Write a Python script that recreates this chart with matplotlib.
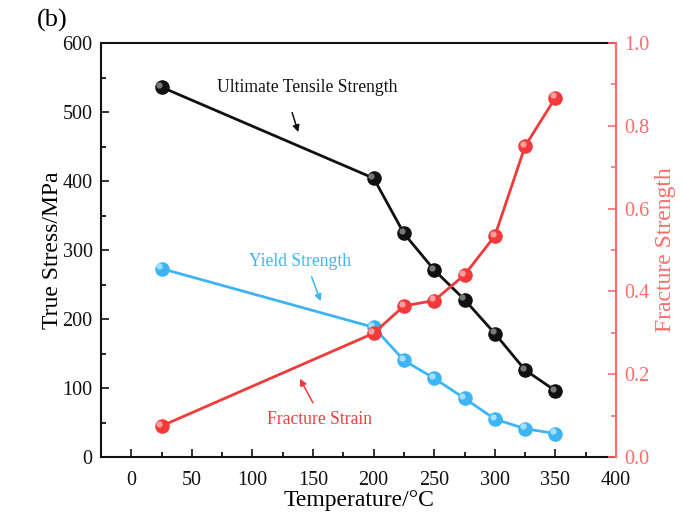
import matplotlib
matplotlib.use("Agg")
import matplotlib.pyplot as plt
from matplotlib.ticker import MultipleLocator, FormatStrFormatter
from matplotlib.transforms import offset_copy

plt.rcParams['font.family'] = ['Liberation Serif', 'DejaVu Serif']

temps = [25, 200, 225, 250, 275, 300, 325, 350]
uts = [536, 404, 324, 271, 228, 179, 126, 96]
yield_strength = [273, 188, 140, 114, 85, 55, 41, 34]
fracture_strain = [0.075, 0.299, 0.365, 0.378, 0.44, 0.534, 0.751, 0.868]

black = '#111111'
blue = '#3DB5F5'
red = '#F23A3A'
red_axis = '#FF6B6B'

fig = plt.figure(figsize=(6.84, 5.12), dpi=100)
ax = fig.add_axes([0.1477, 0.1074, 0.7529, 0.8086])
ax2 = ax.twinx()


def shaded(axis, x, y, color, hl):
    axis.plot(x, y, '-', color=color, lw=2.0, zorder=3)
    axis.plot(x, y, 'o', ms=10.5, mfc=color, mec=color, mew=0, zorder=4, ls='none')
    tr = offset_copy(axis.transData, fig=fig, x=-1.6, y=1.6, units='points')
    axis.plot(x, y, 'o', ms=4.5, mfc=hl, mec='none', alpha=0.85, zorder=5,
              ls='none', transform=tr)


shaded(ax, temps, uts, black, '#8a8a8a')
shaded(ax, temps, yield_strength, blue, '#b8e6ff')
shaded(ax2, temps, fracture_strain, red, '#ffb0b0')

ax.set_xlim(-25, 400)
ax.set_ylim(0, 600)
ax2.set_ylim(0, 1.0)

ax.xaxis.set_major_locator(MultipleLocator(50))
ax.xaxis.set_minor_locator(MultipleLocator(25))
ax.yaxis.set_major_locator(MultipleLocator(100))
ax.yaxis.set_minor_locator(MultipleLocator(50))
ax2.yaxis.set_major_locator(MultipleLocator(0.2))
ax2.yaxis.set_minor_locator(MultipleLocator(0.1))

ax.tick_params(axis='both', which='major', direction='in', length=6, width=1.2,
               labelsize=14.5, colors=black, pad=6)
ax.tick_params(axis='x', which='major', pad=10)
ax.tick_params(axis='both', which='minor', direction='in', length=3.5, width=1.2)
ax.tick_params(axis='y', right=False)
ax.tick_params(axis='x', top=False)
ax2.tick_params(axis='y', which='major', direction='in', length=6, width=1.2,
                labelsize=14.5, colors=red_axis, pad=6)
ax2.tick_params(axis='y', which='minor', direction='in', length=3.5, width=1.2,
                colors=red_axis)
ax2.yaxis.set_major_formatter(FormatStrFormatter('%.1f'))

for s in ['left', 'bottom', 'top']:
    ax.spines[s].set_linewidth(1.5)
    ax.spines[s].set_color(black)
ax2.spines['right'].set_color(red_axis)
ax2.spines['right'].set_linewidth(1.5)
for s in ['left', 'bottom', 'top']:
    ax2.spines[s].set_visible(False)

ax.set_xlabel('Temperature/°C', fontsize=17, labelpad=0)
ax.set_ylabel('True Stress/MPa', fontsize=17, labelpad=0)
ax2.set_ylabel('Fracture Strength', fontsize=17, color=red_axis, labelpad=4)

ax.text(145, 535, 'Ultimate Tensile Strength', fontsize=12.7, color=black,
        ha='center', va='center')
ax.annotate('', xy=(138.5, 467), xytext=(132, 503),
            arrowprops=dict(arrowstyle='-|>', color=black, lw=1.1,
                            mutation_scale=10))
ax.text(139, 283, 'Yield Strength', fontsize=12.7, color=blue,
        ha='center', va='center')
ax.annotate('', xy=(157, 222), xytext=(148, 265),
            arrowprops=dict(arrowstyle='-|>', color=blue, lw=1.1,
                            mutation_scale=10))
ax.text(155, 54, 'Fracture Strain', fontsize=12.7, color=red,
        ha='center', va='center')
ax.annotate('', xy=(138, 117), xytext=(151, 75),
            arrowprops=dict(arrowstyle='-|>', color=red, lw=1.1,
                            mutation_scale=10))

fig.text(0.076, 0.96, '(b)', fontsize=19, ha='center', va='center')

fig.savefig('out.png', dpi=100)
